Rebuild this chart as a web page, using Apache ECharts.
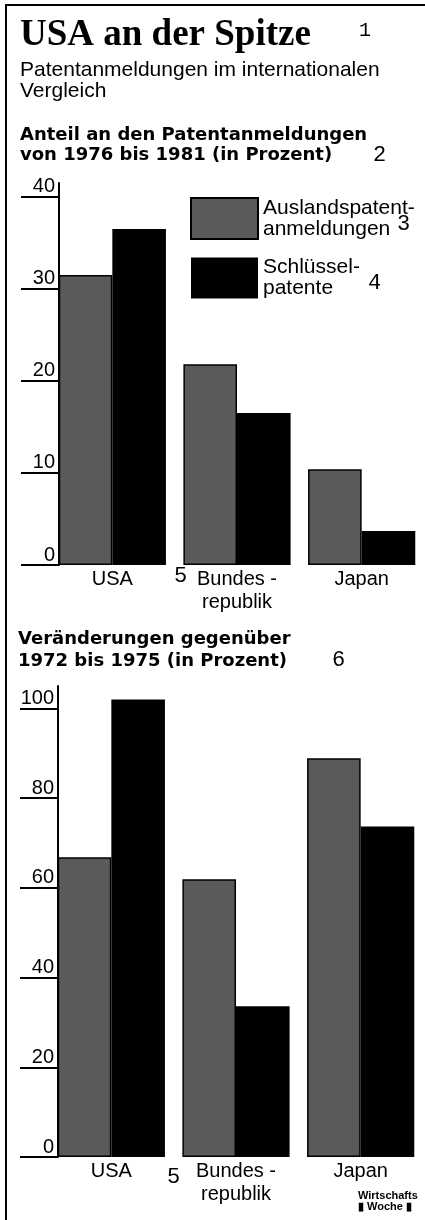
<!DOCTYPE html>
<html>
<head>
<meta charset="utf-8">
<script src="https://cdn.jsdelivr.net/npm/echarts@6/dist/echarts.min.js"></script>
<style>
  html, body { margin: 0; padding: 0; background: #fff; }
  #chart { position: absolute; left: 0; top: 0; width: 425px; height: 1220px; }
  #frame {
    position: absolute; left: 5px; top: 4px; right: 0; bottom: 0;
    border-left: 2px solid #000; border-top: 2px solid #000;
    pointer-events: none;
  }
</style>
</head>
<body>
<div id="chart"></div>
<div id="frame"></div>
<script>
// Kategorien und Werte
const categories = ["USA", "Bundes -\nrepublik", "Japan"];
const seriesNames = ["Auslandspatentanmeldungen", "Schlüsselpatente"];
const legendLabels = ["Auslandspatent-\nanmeldungen", "Schlüssel-\npatente"];

// Anteil 1976 bis 1981 (in Prozent)
const anteilAusland = [31.5, 21.8, 10.4];
const anteilSchluessel = [36.5, 16.5, 3.7];
const anteilTicks = [0, 10, 20, 30, 40];

// Veränderungen gegenüber 1972 bis 1975 (in Prozent)
const veraenderungAusland = [66.8, 61.9, 88.9];
const veraenderungSchluessel = [102, 33.6, 73.7];
const veraenderungTicks = [0, 20, 40, 60, 80, 100];

const sans = "'Liberation Sans', Arial, sans-serif";
const heavy = "'DejaVu Sans', sans-serif";
const mono = "'Liberation Mono', monospace";

const greyStyle = { color: "#5a5a5a", borderColor: "#000", borderWidth: 1.5 };
const blackStyle = { color: "#000" };

const chart = echarts.init(document.getElementById("chart"));

const makeYAxis = (gridIndex, max, ticks) => ({
  type: "value",
  gridIndex: gridIndex,
  min: 0,
  max: max,
  offset: -9,
  splitLine: { show: false },
  axisLine: { show: true, lineStyle: { color: "#000", width: 2 } },
  axisTick: {
    show: true,
    length: 38,
    customValues: ticks,
    lineStyle: { color: "#000", width: 2 },
  },
  axisLabel: {
    customValues: ticks,
    color: "#000",
    fontFamily: sans,
    fontSize: 20,
    margin: 4,
    verticalAlign: "bottom",
  },
});

const makeXAxis = (gridIndex) => ({
  type: "category",
  gridIndex: gridIndex,
  data: categories,
  axisLine: { show: false },
  axisTick: { show: false },
  axisLabel: {
    color: "#000",
    fontFamily: sans,
    fontSize: 20,
    lineHeight: 23,
    margin: 3,
    verticalAlign: "top",
  },
});

const barBase = {
  type: "bar",
  barGap: "0%",
  barCategoryGap: "14%",
  animation: false,
};

// kleine handschriftliche Ziffern
const note = (text, x, y, size) => ({
  type: "text",
  x: x,
  y: y,
  style: {
    text: text,
    font: size + "px " + mono,
    fill: "#000",
    verticalAlign: "middle",
  },
});

const option = {
  animation: false,
  grid: [
    { left: 50, width: 374, top: 183, height: 382 },
    { left: 49, width: 374, top: 686, height: 471 },
  ],
  xAxis: [makeXAxis(0), makeXAxis(1)],
  yAxis: [makeYAxis(0, 41.5, anteilTicks), makeYAxis(1, 105, veraenderungTicks)],
  legend: {
    orient: "vertical",
    left: 185,
    top: 192,
    itemWidth: 67,
    itemHeight: 41,
    itemGap: 17,
    icon: "rect",
    selectedMode: false,
    data: seriesNames,
    formatter: (name) => legendLabels[seriesNames.indexOf(name)],
    textStyle: { color: "#000", fontFamily: sans, fontSize: 21, lineHeight: 21 },
  },
  series: [
    { ...barBase, name: seriesNames[0], xAxisIndex: 0, yAxisIndex: 0, data: anteilAusland, itemStyle: greyStyle },
    { ...barBase, name: seriesNames[1], xAxisIndex: 0, yAxisIndex: 0, data: anteilSchluessel, itemStyle: blackStyle },
    { ...barBase, name: seriesNames[0], xAxisIndex: 1, yAxisIndex: 1, data: veraenderungAusland, itemStyle: greyStyle },
    { ...barBase, name: seriesNames[1], xAxisIndex: 1, yAxisIndex: 1, data: veraenderungSchluessel, itemStyle: blackStyle },
  ],
  graphic: [
    {
      type: "text", left: 20, top: 17,
      style: { text: "USA an der Spitze", font: "bold 37px 'Liberation Serif', serif", fill: "#000" },
    },
    {
      type: "text", left: 20, top: 60,
      style: {
        text: "Patentanmeldungen im internationalen\nVergleich",
        font: "21px " + sans, lineHeight: 21, fill: "#000",
      },
    },
    {
      type: "text", left: 20, top: 125,
      style: {
        text: "Anteil an den Patentanmeldungen\nvon 1976 bis 1981 (in Prozent)",
        font: "bold 18px " + heavy, lineHeight: 20, fill: "#000",
      },
    },
    {
      type: "text", left: 18, top: 628,
      style: {
        text: "Veränderungen gegenüber\n1972 bis 1975 (in Prozent)",
        font: "bold 18px " + heavy, lineHeight: 22, fill: "#000",
      },
    },
    {
      type: "text", left: 358, top: 1190,
      style: {
        text: "Wirtschafts\n▮ Woche ▮",
        font: "bold 11px " + sans, lineHeight: 11, fill: "#000", align: "left",
      },
    },
    note("1", 359, 31, 20),
    note("2", 373, 155, 22),
    note("3", 397, 224, 22),
    note("4", 368, 283, 22),
    note("5", 174, 576, 22),
    note("6", 332, 660, 22),
    note("5", 167, 1177, 22),
  ],
};

chart.setOption(option);
</script>
</body>
</html>
